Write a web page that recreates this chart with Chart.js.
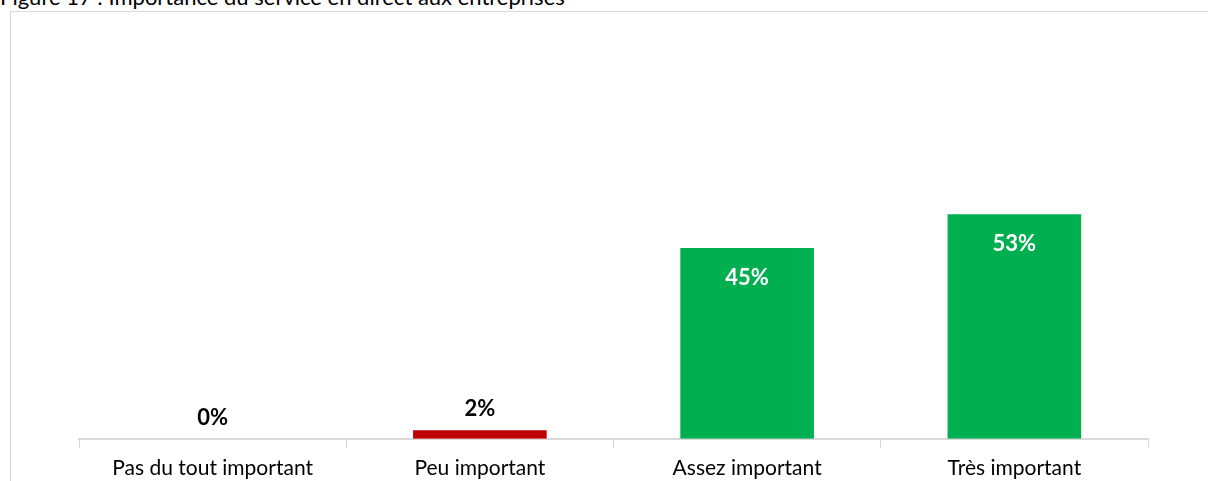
<!DOCTYPE html>
<html>
<head>
<meta charset="utf-8">
<script src="https://cdn.jsdelivr.net/npm/chart.js@4"></script>
<style>
  html, body { margin: 0; padding: 0; background: #fff; overflow: hidden; }
  body { width: 1208px; height: 481px; position: relative; font-family: Lato, sans-serif; }
  #title { position: absolute; left: 0; top: -17px; font-size: 22px; color: #000; white-space: nowrap; }
  #frame { position: absolute; left: 10px; top: 11px; width: 1300px; height: 600px; border: 1px solid #d9d9d9; }
  #chart { position: absolute; left: 0; top: 0; }
</style>
</head>
<body>
<div id="title">Figure 17 : Importance du service en direct aux entreprises</div>
<div id="frame"></div>
<canvas id="chart" width="1208" height="489"></canvas>
<script>
// Importance du service en direct
const categories = ["Pas du tout important", "Peu important", "Assez important", "Très important"];
const values = [0, 2, 45, 53];
const barColors = ["#C00000", "#C00000", "#00B050", "#00B050"];

// Percent labels: white inside tall bars, black above short ones
const pctLabels = {
  id: "pctLabels",
  afterDatasetsDraw(chart) {
    const ctx = chart.ctx;
    const meta = chart.getDatasetMeta(0);
    ctx.save();
    ctx.font = "bold 22px Lato";
    ctx.textAlign = "center";
    ctx.textBaseline = "middle";
    meta.data.forEach((bar, i) => {
      const v = values[i];
      if (v >= 10) {
        ctx.fillStyle = "#fff";
        ctx.fillText(v + "%", bar.x, bar.y + 30);
      } else {
        ctx.fillStyle = "#000";
        ctx.fillText(v + "%", bar.x, bar.y - 21);
      }
    });
    ctx.restore();
  }
};

new Chart(document.getElementById("chart"), {
  type: "bar",
  data: {
    labels: categories,
    datasets: [
      {
        data: values,
        backgroundColor: barColors,
        borderWidth: 0,
        categoryPercentage: 1,
        barPercentage: 0.5,
      },
    ],
  },
  options: {
    responsive: false,
    animation: false,
    layout: { padding: { left: 79, right: 60, top: 15, bottom: 0 } },
    plugins: {
      legend: { display: false },
      tooltip: { enabled: false },
    },
    scales: {
      x: {
        grid: { drawOnChartArea: false, drawTicks: true, tickLength: 9, color: "#d9d9d9" },
        border: { display: true, color: "#d9d9d9", width: 2 },
        ticks: { color: "#000", font: { family: "Lato", size: 21 }, padding: 8, maxRotation: 0 },
      },
      y: {
        display: false,
        min: 0,
        max: 100,
      },
    },
  },
  plugins: [pctLabels],
});
</script>
</body>
</html>
